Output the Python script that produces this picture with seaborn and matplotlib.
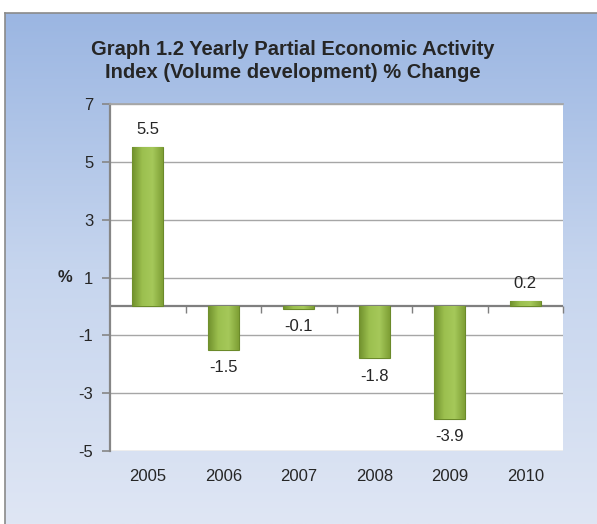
import numpy as np
import pandas as pd
import matplotlib
matplotlib.use('Agg')
import matplotlib.pyplot as plt
import seaborn as sns
from matplotlib.colors import LinearSegmentedColormap

years = ['2005', '2006', '2007', '2008', '2009', '2010']
change = [5.5, -1.5, -0.1, -1.8, -3.9, 0.2]
y_ticks = [-5, -3, -1, 1, 3, 5, 7]
title = 'Graph 1.2 Yearly Partial Economic Activity\nIndex (Volume development) % Change'

sns.set_theme(style='white')
plt.rcParams['font.family'] = ['Liberation Sans', 'DejaVu Sans']
plt.rcParams['axes.unicode_minus'] = False

df = pd.DataFrame({'year': years, 'change': change})

fig = plt.figure(figsize=(5.97, 5.24), dpi=100)
fig.patch.set_facecolor('white')

# blue gradient panel behind the chart
bg = fig.add_axes([5 / 597, 0, 592 / 597, 1 - 13 / 524], zorder=0)
bg_cmap = LinearSegmentedColormap.from_list('bg', ['#9bb6e2', '#c6d5ee', '#dfe6f4'])
grad = np.linspace(0, 1, 256).reshape(-1, 1)
bg.imshow(grad, aspect='auto', cmap=bg_cmap, extent=[0, 1, 0, 1], origin='upper')
bg.set_xticks([])
bg.set_yticks([])
for side in ['right', 'bottom']:
    bg.spines[side].set_visible(False)
for side in ['left', 'top']:
    bg.spines[side].set_color('#8a8a8a')
    bg.spines[side].set_linewidth(1.2)

ax = fig.add_axes([110 / 597, 1 - 451 / 524, 453 / 597, 347 / 524], zorder=1)
ax.set_facecolor('white')

sns.barplot(data=df, x='year', y='change', color='#8db33f', width=0.41,
            saturation=1, ax=ax, zorder=3)

ax.set_ylim(-5, 7)
ax.set_yticks(y_ticks)
ax.yaxis.grid(True, color='#a6a6a6', linewidth=1)
ax.set_axisbelow(True)
ax.axhline(0, color='#7f7f7f', linewidth=1.6, zorder=2)

# gradient fill on bars
bar_cmap = LinearSegmentedColormap.from_list('bar', ['#6f8f2c', '#9cc04f', '#a5c85a', '#7e9f35'])
hgrad = np.linspace(0, 1, 128).reshape(1, -1)
for p in ax.patches:
    x0, y0 = p.get_x(), p.get_y()
    w, h = p.get_width(), p.get_height()
    p.set_facecolor('none')
    p.set_edgecolor('#6b8a2a')
    p.set_linewidth(0.8)
    im = ax.imshow(hgrad, cmap=bar_cmap, aspect='auto', zorder=3,
                   extent=[x0, x0 + w, min(y0, y0 + h), max(y0, y0 + h)])
    im.set_clip_path(p)

ax.set_xlim(-0.5, len(years) - 0.5)

for i, v in enumerate(change):
    if v >= 0:
        ax.text(i, v + 0.35, f'{v:.1f}', ha='center', va='bottom', fontsize=12)
    else:
        ax.text(i, v - 0.35, f'{v:.1f}', ha='center', va='top', fontsize=12)

for side in ['right', 'bottom']:
    ax.spines[side].set_visible(False)
ax.spines['top'].set_color('#a6a6a6')
ax.spines['left'].set_color('#868686')
ax.spines['left'].set_linewidth(1.6)

ax.tick_params(axis='y', which='both', left=True, length=6, width=1.2,
               color='#868686', labelsize=12, pad=6)
ax.tick_params(axis='x', bottom=False, labelsize=12, pad=7)
ax.set_xlabel('')
ax.set_ylabel('%', rotation=0, fontweight='bold', fontsize=12, labelpad=10,
              va='center')

# small category-boundary ticks on the zero line
zero_frac = (0 - (-5)) / 12
sec = ax.secondary_xaxis(zero_frac)
sec.set_xticks(np.arange(len(years)) + 0.5)
sec.set_xticklabels([])
sec.tick_params(length=5, width=1, color='#7f7f7f', direction='out')
sec.spines['bottom'].set_visible(False)

fig.text(0.49, 0.884, title, ha='center', va='center', fontsize=14.5,
         fontweight='bold', linespacing=1.3)

fig.savefig('out.png', dpi=100)
